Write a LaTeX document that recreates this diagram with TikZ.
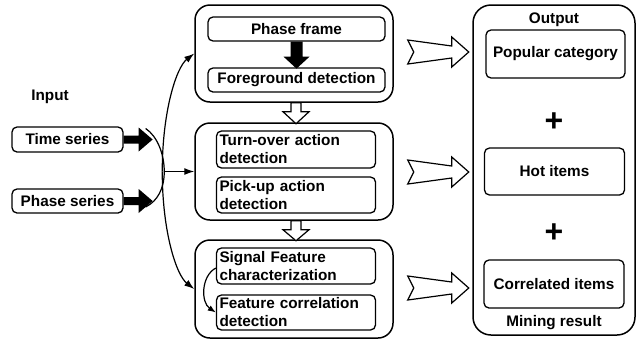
\documentclass[tikz,border=0pt]{standalone}
\usepackage{fontspec}
\setmainfont{Liberation Sans}
\usetikzlibrary{arrows.meta,calc}
\tikzset{
  big/.style={draw, line width=1.5pt, rounded corners=15pt, inner sep=0pt},
  ibox/.style={draw, line width=1.3pt, rounded corners=5pt, inner sep=0pt, align=center},
  lbox/.style={draw, line width=1.3pt, rounded corners=5pt, inner xsep=3pt, inner ysep=0pt, align=left, text width=153pt, minimum width=159pt},
  lbl/.style={inner sep=0pt},
  conn/.style={line width=1.2pt, -{Latex[length=10pt,width=7pt]}},
  plain/.style={line width=1.2pt},
  hollow/.style={draw, line width=1.2pt, fill=white, line join=miter},
  solidarrow/.style={fill=black}
}
\newcommand\wideArrow[1]{\draw[hollow] (#1) ++(0,-12) -- ++(44,6) -- ++(0,-9) -- ++(17,15) -- ++(-17,15) -- ++(0,-9) -- ++(-44,6) -- ++(6,-12) -- cycle;}
\begin{document}
\begin{tikzpicture}[x=1pt,y=-1pt, every node/.append style={font=\bfseries\fontsize{15.3}{18}\selectfont}]
\useasboundingbox (0,0) rectangle (644,341);

% input column
\node[lbl] (in) at (50,97) {Input};
\node[ibox, minimum width=111pt, minimum height=25pt] (ts) at (67.5,139.5) {Time series};
\node[ibox, minimum width=111pt, minimum height=24pt] (ps) at (67.5,201) {Phase series};

% middle column
\node[big, minimum width=198pt, minimum height=97pt] (b1) at (294,53.5) {};
\node[ibox, minimum width=177pt, minimum height=24pt] (pf) at (296.5,29) {Phase frame};
\node[ibox, minimum width=177pt, minimum height=24pt] (fg) at (296.5,80) {Foreground detection};

\node[big, minimum width=198pt, minimum height=97pt] (b2) at (294,171.5) {};
\node[lbox, minimum height=37pt] (to) at (296,149.5) {Turn-over action\\detection};
\node[lbox, minimum height=36pt] (pu) at (296,195) {Pick-up action\\detection};

\node[big, minimum width=198pt, minimum height=98pt] (b3) at (294,289) {};
\node[lbox, minimum height=36pt] (sf) at (296,266) {Signal Feature\\characterization};
\node[lbox, minimum height=35pt] (fc) at (296,312.5) {Feature correlation\\detection};

% output column
\node[big, rounded corners=18pt, minimum width=162pt, minimum height=330pt] (out) at (554,170) {};
\node[lbl] (ot) at (554,20) {Output};
\node[ibox, minimum width=139pt, minimum height=48pt] (pop) at (555.5,54) {Popular category};
\node[lbl] (p1) at (554,122) {\fontsize{32}{32}\selectfont +};
\node[ibox, minimum width=140pt, minimum height=47pt] (hot) at (554.5,171.5) {Hot items};
\node[lbl] (p2) at (554,233) {\fontsize{32}{32}\selectfont +};
\node[ibox, minimum width=140pt, minimum height=48pt] (cor) at (554,284) {Correlated items};
\node[lbl] (mr) at (554,323) {Mining result};

% solid input arrows
\fill ($(ts.east)+(0,-4)$) -- ++(15,0) -- ++(0,-8) -- ++(14,12) -- ++(-14,12) -- ++(0,-8) -- ++(-15,0) -- cycle;
\fill ($(ps.east)+(0,-4)$) -- ++(15,0) -- ++(0,-8) -- ++(14,12) -- ++(-14,12) -- ++(0,-8) -- ++(-15,0) -- cycle;

% solid down arrow phase frame -> foreground
\fill ($(pf.south)+(-6,0)$) -- ++(0,15) -- ++(-7,0) -- ++(13,12) -- ++(13,-12) -- ++(-7,0) -- ++(0,-15) -- cycle;

% hollow down arrows between stages
\draw[hollow] ($(b1.south)+(-3,0)$) -- ++(0,9) -- ++(-8,0) -- ++(13,12) -- ++(13,-12) -- ++(-8,0) -- ++(0,-9) -- cycle;
\draw[hollow] ($(b2.south)+(-3,0)$) -- ++(0,9) -- ++(-8,0) -- ++(13,11) -- ++(13,-11) -- ++(-8,0) -- ++(0,-9) -- cycle;

% wide hollow arrows to output
\coordinate (w1) at ($(b1.east)+(14,-1.5)$);
\coordinate (w2) at ($(b2.east)+(14,0.5)$);
\coordinate (w3) at ($(b3.east)+(14,-1)$);
\wideArrow{w1}
\wideArrow{w2}
\wideArrow{w3}

% merging curves and spine
\coordinate (j) at ($(b2.west)+(-30,0)$);
\coordinate (s) at ($(j)+(-2,0)$);
\draw[plain] ($(ts.east)+(22,-11)$) .. controls +(12,8) and +(0,-17) .. (j);
\draw[plain] ($(ps.east)+(22,6)$) .. controls +(12,-6) and +(0,17) .. (j);
\draw[conn] (j) -- (b2.west);
\draw[conn] (s) .. controls +(0,-60) and +(-18,14) .. (b1.west);
\draw[conn] (s) .. controls +(0,60) and +(-18,-14) .. (b3.west);

% internal curve
\draw[line width=1.2pt, -{Latex[length=8pt,width=6pt]}] ($(sf.west)+(0,2)$) .. controls +(-15,8) and +(-15,-10) .. (fc.west);
\end{tikzpicture}
\end{document}
